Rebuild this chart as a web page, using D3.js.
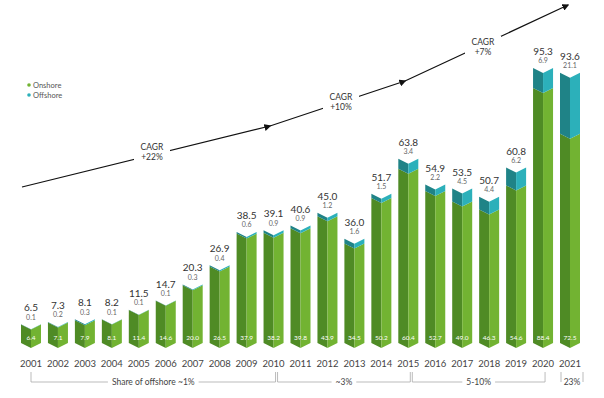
<!DOCTYPE html>
<html>
<head>
<meta charset="utf-8">
<script src="https://cdn.jsdelivr.net/npm/d3@7"></script>
<style>
	body { margin: 0; background: #fff; }
	text { font-family: Lato, "DejaVu Sans", sans-serif; }
</style>
</head>
<body>
<div id="chart"></div>
<script>
const years = [2001, 2002, 2003, 2004, 2005, 2006, 2007, 2008, 2009, 2010, 2011, 2012, 2013, 2014, 2015, 2016, 2017, 2018, 2019, 2020, 2021]
const totals = [6.5, 7.3, 8.1, 8.2, 11.5, 14.7, 20.3, 26.9, 38.5, 39.1, 40.6, 45.0, 36.0, 51.7, 63.8, 54.9, 53.5, 50.7, 60.8, 95.3, 93.6]
const offshore = [0.1, 0.2, 0.3, 0.1, 0.1, 0.1, 0.3, 0.4, 0.6, 0.9, 0.9, 1.2, 1.6, 1.5, 3.4, 2.2, 4.5, 4.4, 6.2, 6.9, 21.1]
const onshore = [6.4, 7.1, 7.9, 8.1, 11.4, 14.6, 20.0, 26.5, 37.9, 38.2, 39.8, 43.9, 34.5, 50.2, 60.4, 52.7, 49.0, 46.3, 54.6, 88.4, 72.5]

const cagrLabels = ["+22%", "+10%", "+7%"]
const shareGroups = [
	{ label: "Share of offshore ~1%", from: 2001, to: 2010 },
	{ label: "~3%", from: 2010, to: 2015 },
	{ label: "5-10%", from: 2015, to: 2020 },
	{ label: "23%", from: 2021, to: 2021 }
]

const W = 604, H = 398
const svg = d3.select("#chart").append("svg").attr("width", W).attr("height", H)

const xs = d3.scalePoint().domain(years).range([31, 570])
const ys = d3.scaleLinear().domain([0, 100]).range([343, 54.4])
const bw = 20, notch = 5

const data = years.map((y, i) => ({ year: y, total: totals[i], off: offshore[i], on: onshore[i] }))

// half of a chevron segment between two levels
function half(xc, side, yTop, yBot) {
	const xe = xc + side * bw / 2
	return [[xe, yTop], [xc, yTop + notch], [xc, yBot + notch], [xe, yBot]].map(p => p.join(",")).join(" ")
}

const colors = {
	on: ["#4f8b25", "#72b332"],
	off: ["#1f8387", "#2cb0ba"]
}

const bars = svg.append("g").selectAll("g").data(data).enter().append("g")

bars.each(function(d) {
	const g = d3.select(this), xc = xs(d.year)
	const yTot = ys(d.on + d.off), yOn = ys(d.on), y0 = ys(0)
	g.append("polygon").attr("points", half(xc, -1, yOn, y0)).attr("fill", colors.on[0])
	g.append("polygon").attr("points", half(xc, 1, yOn, y0)).attr("fill", colors.on[1])
	g.append("polygon").attr("points", half(xc, -1, yTot, yOn)).attr("fill", colors.off[0])
	g.append("polygon").attr("points", half(xc, 1, yTot, yOn)).attr("fill", colors.off[1])
})

bars.append("text")
	.attr("x", d => xs(d.year))
	.attr("y", d => ys(d.on + d.off) - 13)
	.attr("text-anchor", "middle")
	.attr("font-size", 10)
	.attr("fill", "#333")
	.text(d => d.total.toFixed(1))

bars.append("text")
	.attr("x", d => xs(d.year))
	.attr("y", d => ys(d.on + d.off) - 4.5)
	.attr("text-anchor", "middle")
	.attr("font-size", 7)
	.attr("fill", "#666")
	.text(d => d.off.toFixed(1))

bars.append("text")
	.attr("x", d => xs(d.year))
	.attr("y", ys(0) - 3)
	.attr("text-anchor", "middle")
	.attr("font-size", 6.5)
	.attr("fill", "#fff")
	.text(d => d.on.toFixed(1))

// year axis
svg.append("g").selectAll("text").data(years).enter().append("text")
	.attr("x", d => xs(d))
	.attr("y", 367)
	.attr("text-anchor", "middle")
	.attr("font-size", 9.5)
	.attr("fill", "#444")
	.text(d => d)

// share of offshore brackets
const br = svg.append("g").attr("stroke", "#aaa").attr("stroke-width", 0.8).attr("fill", "none")
shareGroups.forEach((s, i) => {
	const x0 = xs(s.from) + (i === 0 ? 0 : (s.from === s.to ? -9 : 4)),
		x1 = xs(s.to) + (s.from === s.to ? 13 : 2),
		xm = (x0 + x1) / 2
	const t = svg.append("text")
		.attr("x", xm).attr("y", 384.5)
		.attr("text-anchor", "middle")
		.attr("font-size", 8.5)
		.attr("fill", "#444")
		.text(s.label)
	const tw = t.node().getComputedTextLength() / 2 + 4
	br.append("path").attr("d", `M${x0},372V382`)
	br.append("path").attr("d", `M${x1},372V382`)
	if (s.from !== s.to) {
		br.append("path").attr("d", `M${x0},382H${xm - tw}M${xm + tw},382H${x1}`)
	}
})

// CAGR arrow
const defs = svg.append("defs")
defs.append("marker").attr("id", "arr")
	.attr("viewBox", "0 0 10 10").attr("refX", 8).attr("refY", 5)
	.attr("markerWidth", 7).attr("markerHeight", 7)
	.attr("markerUnits", "userSpaceOnUse")
	.attr("orient", "auto")
	.append("path").attr("d", "M0,0L10,5L0,10z").attr("fill", "#111")

const arrowPts = [[22, 187], [270, 126], [405, 81], [568, 5]]
svg.append("path")
	.attr("d", d3.line()(arrowPts))
	.attr("fill", "none")
	.attr("stroke", "#111")
	.attr("stroke-width", 1.2)
	.attr("marker-mid", "url(#arr)")
	.attr("marker-end", "url(#arr)")

const cagrPos = [[152, 150], [341, 100], [483, 45]]
cagrLabels.forEach((c, i) => {
	const [cx, cy] = cagrPos[i]
	svg.append("rect").attr("x", cx - 18).attr("y", cy - 9).attr("width", 36).attr("height", 22).attr("fill", "#fff")
	const t = svg.append("text").attr("x", cx).attr("y", cy).attr("text-anchor", "middle")
		.attr("font-size", 8.5).attr("fill", "#333")
	t.append("tspan").attr("x", cx).attr("dy", 0).text("CAGR")
	t.append("tspan").attr("x", cx).attr("dy", 10).text(c)
})

// legend
const legend = [["Onshore", colors.on[1]], ["Offshore", colors.off[1]]]
const lg = svg.append("g").selectAll("g").data(legend).enter().append("g")
	.attr("transform", (d, i) => `translate(29,${85 + i * 10})`)
lg.append("circle").attr("r", 1.8).attr("fill", d => d[1])
lg.append("text").attr("x", 4).attr("y", 2.5).attr("font-size", 7.5).attr("fill", "#555").text(d => d[0])
</script>
</body>
</html>
